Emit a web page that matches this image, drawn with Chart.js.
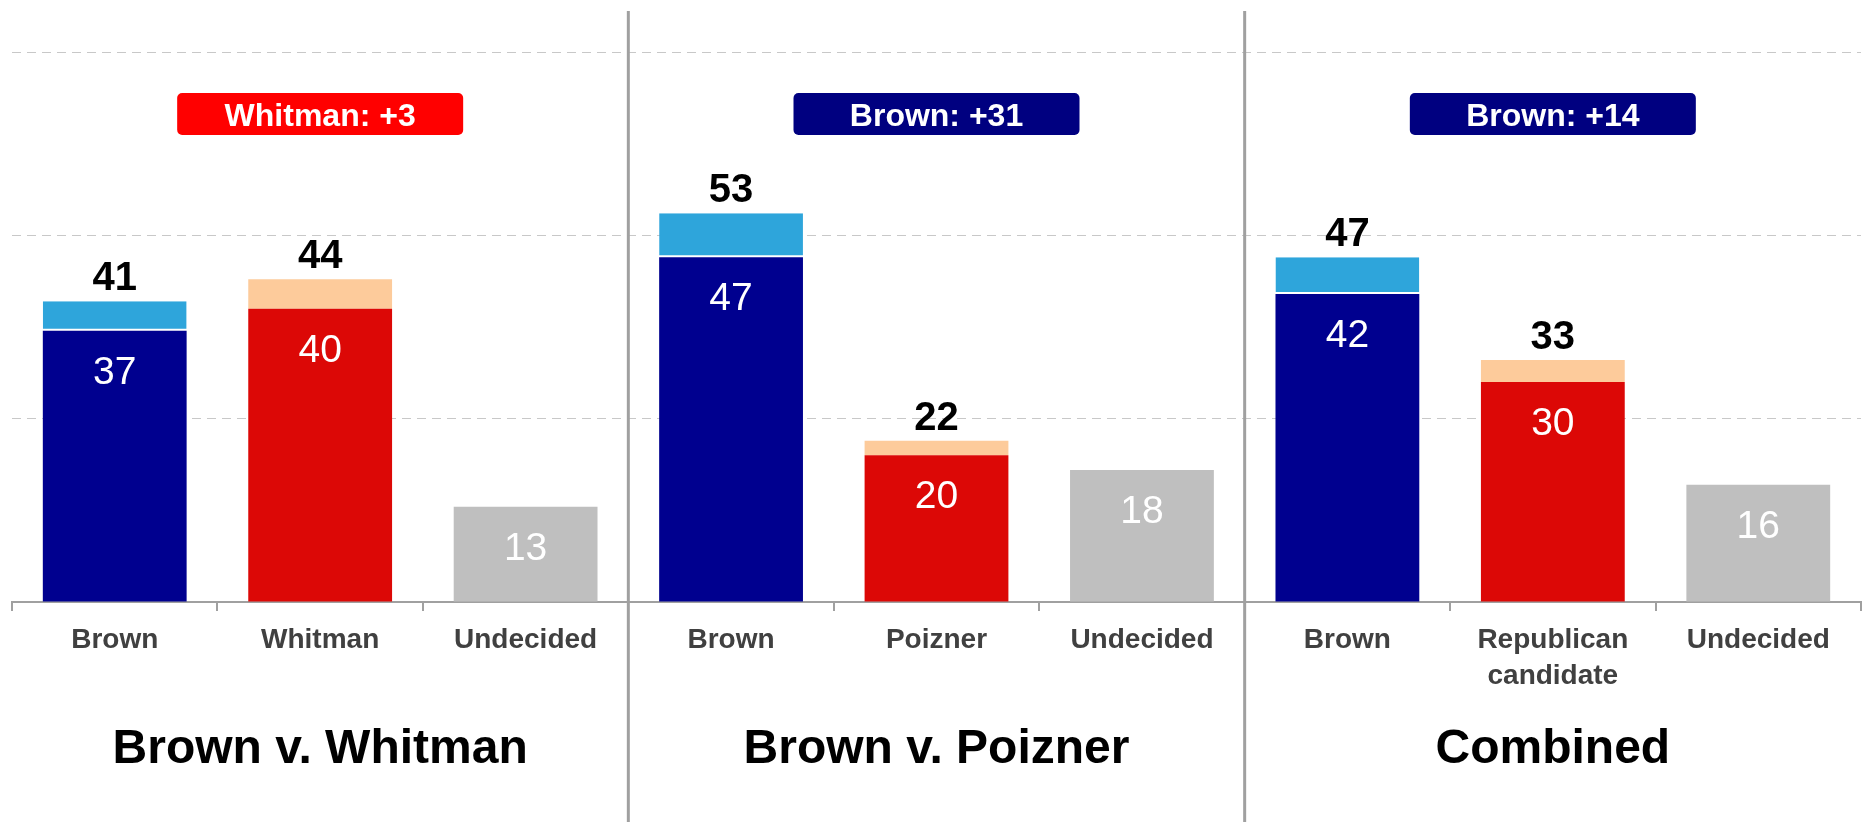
<!DOCTYPE html>
<html>
<head>
<meta charset="utf-8">
<script src="https://cdn.jsdelivr.net/npm/chart.js@4.4.1/dist/chart.umd.min.js"></script>
<style>
  html, body { margin: 0; padding: 0; background: #fff; }
  #chartBox { width: 1867px; height: 822px; position: relative; }
</style>
</head>
<body>
<div id="chartBox"><canvas id="pollChart"></canvas></div>
<script>
const FONT = "'Liberation Sans', Arial, sans-serif";

// three match-ups, three bars each
const panelTitles = ['Brown v. Whitman', 'Brown v. Poizner', 'Combined'];
const marginLabels = ['Whitman: +3', 'Brown: +31', 'Brown: +14'];
const marginColors = ['#ff0000', '#000080', '#000080'];

const categories = ['Brown', 'Whitman', 'Undecided',
                    'Brown', 'Poizner', 'Undecided',
                    'Brown', ['Republican', 'candidate'], 'Undecided'];
const firmVotes = [37, 40, 13, 47, 20, 18, 42, 30, 16];
const leanVotes = [4, 4, 0, 6, 2, 0, 5, 3, 0];
const yTicks = [0, 25, 50, 75];

const firmColors = ['#00008f', '#dc0806', '#bfbfbf',
                    '#00008f', '#dc0806', '#bfbfbf',
                    '#00008f', '#dc0806', '#bfbfbf'];
const leanColors = ['#2ea5db', '#fdcb9b', '#bfbfbf',
                    '#2ea5db', '#fdcb9b', '#bfbfbf',
                    '#2ea5db', '#fdcb9b', '#bfbfbf'];

const annotate = {
  id: 'annotate',
  afterDatasetsDraw(chart) {
    const ctx = chart.ctx;
    const firmMeta = chart.getDatasetMeta(0);
    const leanMeta = chart.getDatasetMeta(1);
    ctx.save();
    ctx.textAlign = 'center';
    ctx.textBaseline = 'alphabetic';
    firmVotes.forEach((v, i) => {
      const bar = firmMeta.data[i];
      ctx.fillStyle = '#ffffff';
      ctx.font = '39px ' + FONT;
      ctx.fillText(String(v), bar.x, bar.y + 53);
      if (leanVotes[i] > 0) {
        const top = leanMeta.data[i];
        ctx.fillStyle = '#000000';
        ctx.font = 'bold 40px ' + FONT;
        ctx.fillText(String(v + leanVotes[i]), top.x, top.y - 11);
      }
    });
    ctx.restore();
  },
  afterDraw(chart) {
    const ctx = chart.ctx;
    const x = chart.scales.x;
    const area = chart.chartArea;
    ctx.save();

    // panel separators
    ctx.strokeStyle = '#a0a0a0';
    ctx.lineWidth = 3;
    for (let p = 1; p < panelTitles.length; p++) {
      const xp = (x.getPixelForValue(p * 3 - 1) + x.getPixelForValue(p * 3)) / 2;
      ctx.beginPath();
      ctx.moveTo(xp, 11);
      ctx.lineTo(xp, chart.height);
      ctx.stroke();
    }

    ctx.textAlign = 'center';
    ctx.textBaseline = 'alphabetic';
    panelTitles.forEach((t, p) => {
      const cx = x.getPixelForValue(p * 3 + 1);

      // margin badge
      const bw = 286, bh = 42, by = area.top + 41;
      ctx.fillStyle = marginColors[p];
      ctx.beginPath();
      ctx.roundRect(cx - bw / 2, by, bw, bh, 5);
      ctx.fill();
      ctx.fillStyle = '#ffffff';
      ctx.font = 'bold 32px ' + FONT;
      ctx.fillText(marginLabels[p], cx, by + 33);

      // panel title
      ctx.fillStyle = '#000000';
      ctx.font = 'bold 48px ' + FONT;
      ctx.fillText(t, cx, area.bottom + 161);
    });
    ctx.restore();
  }
};

const ctx = document.getElementById('pollChart').getContext('2d');

const config = {
  type: 'bar',
  data: {
    labels: categories,
    datasets: [{
      label: 'Firm',
      data: firmVotes,
      backgroundColor: firmColors,
      borderWidth: 0,
      barPercentage: 0.7,
      categoryPercentage: 1
    }, {
      label: 'Leaning',
      data: leanVotes,
      backgroundColor: leanColors,
      borderColor: '#ffffff',
      borderWidth: c => (leanColors[c.dataIndex] === '#2ea5db' ? { top: 0, left: 0, right: 0, bottom: 2 } : 0),
      borderSkipped: false,
      barPercentage: 0.7,
      categoryPercentage: 1
    }]
  },
  options: {
    responsive: true,
    maintainAspectRatio: false,
    animation: false,
    layout: { padding: { top: 52, left: 12, right: 6, bottom: 0 } },
    plugins: {
      legend: { display: false },
      tooltip: { enabled: false }
    },
    scales: {
      x: {
        stacked: true,
        grid: {
          drawOnChartArea: false,
          drawTicks: true,
          tickLength: 9,
          color: '#a0a0a0',
          lineWidth: 2
        },
        border: { display: true, color: '#a0a0a0', width: 2 },
        ticks: {
          autoSkip: false,
          maxRotation: 0,
          padding: 11,
          color: '#404040',
          font: { family: FONT, size: 28, weight: 'bold', lineHeight: 1.3 }
        },
        afterFit(scale) { scale.height = 220; }
      },
      y: {
        stacked: true,
        min: yTicks[0],
        max: yTicks[yTicks.length - 1],
        afterBuildTicks(scale) { scale.ticks = yTicks.map(v => ({ value: v })); },
        ticks: { display: false },
        grid: {
          drawTicks: false,
          color: c => (c.tick && c.tick.value === 0 ? 'rgba(0,0,0,0)' : '#c8c8c8'),
          lineWidth: 1
        },
        border: { display: false, dash: [9, 6] },
        afterFit(scale) { scale.width = 0; }
      }
    }
  },
  plugins: [annotate]
};

const pollChart = new Chart(ctx, config);
</script>
</body>
</html>
